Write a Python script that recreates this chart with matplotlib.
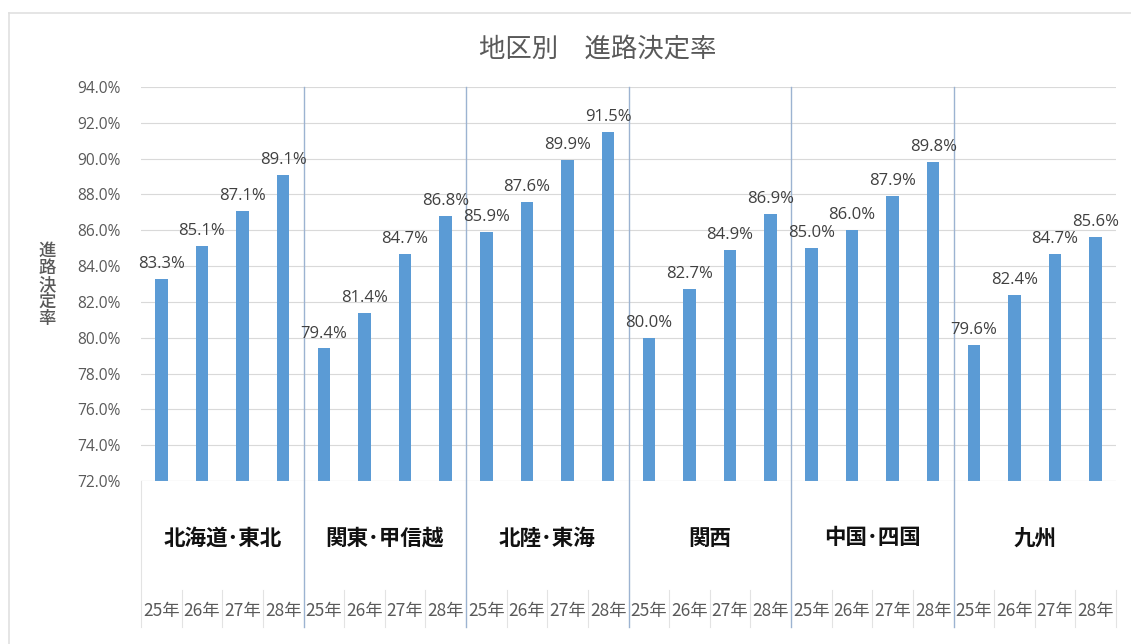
import matplotlib
matplotlib.use("Agg")
import matplotlib.pyplot as plt
from matplotlib.lines import Line2D
import matplotlib.transforms as mtransforms

plt.rcParams['font.family'] = ['Noto Sans CJK JP', 'DejaVu Sans']

title = "地区別　進路決定率"
ylabel = "進路決定率"
regions = ["北海道･東北", "関東･甲信越", "北陸･東海", "関西", "中国･四国", "九州"]
years = ["25年", "26年", "27年", "28年"]
values = [
    [83.3, 85.1, 87.1, 89.1],
    [79.4, 81.4, 84.7, 86.8],
    [85.9, 87.6, 89.9, 91.5],
    [80.0, 82.7, 84.9, 86.9],
    [85.0, 86.0, 87.9, 89.8],
    [79.6, 82.4, 84.7, 85.6],
]
yticks = [72, 74, 76, 78, 80, 82, 84, 86, 88, 90, 92, 94]

W, H = 1131, 644
fig = plt.figure(figsize=(W / 100, H / 100), dpi=100)
# chart frame (top and left edges visible)
fig.add_artist(Line2D([9 / W, 1.0], [1 - 13 / H, 1 - 13 / H], transform=fig.transFigure,
                      color='#E0E0E0', linewidth=1.2))
fig.add_artist(Line2D([9 / W, 9 / W], [0.0, 1 - 13 / H], transform=fig.transFigure,
                      color='#E0E0E0', linewidth=1.2))

ax = fig.add_axes([141 / W, 1 - 481 / H, (1116 - 141) / W, (481 - 87) / H])

bar_color = '#5B9BD5'
text_gray = '#595959'
ng = len(regions)
ny = len(years)
xs = []
vals = []
for gi, row in enumerate(values):
    for yi, v in enumerate(row):
        xs.append(gi * ny + yi)
        vals.append(v)

ax.bar(xs, vals, width=0.31, color=bar_color, bottom=0)
ax.set_ylim(72, 94)
ax.set_xlim(-0.5, ng * ny - 0.5)
ax.set_yticks(yticks)
ax.set_yticklabels([f"{t:.1f}%" for t in yticks], fontsize=11.2, color=text_gray,
                   family=['Open Sans', 'DejaVu Sans'])
ax.tick_params(axis='y', length=0, pad=15)
ax.set_xticks([])
ax.grid(axis='y', color='#D9D9D9', linewidth=0.8)
ax.set_axisbelow(True)
for s in ax.spines.values():
    s.set_visible(False)
ax.axhline(72, color='#D9D9D9', linewidth=0.8)

for x, v in zip(xs, vals):
    ax.annotate(f"{v:.1f}%", (x, v), xytext=(0, 5), textcoords='offset points',
                ha='center', va='bottom', fontsize=12, color='#404040',
                family=['Open Sans', 'DejaVu Sans'])

trans = mtransforms.blended_transform_factory(ax.transData, ax.transAxes)
ah = 481 - 87
def af(py):
    return (481 - py) / ah

# region separators
for gi in range(1, ng):
    xp = gi * ny - 0.5
    ax.plot([xp, xp], [1, af(627)], transform=trans, color='#9CB3D1',
            linewidth=1.0, clip_on=False)
# outer edges
ax.plot([-0.5, -0.5], [0, af(627)], transform=trans, color='#E3E3E3',
        linewidth=0.8, clip_on=False)
ax.plot([ng * ny - 0.5] * 2, [af(590), af(627)], transform=trans, color='#E3E3E3',
        linewidth=0.8, clip_on=False)
# year separators
for gi in range(ng):
    for yi in range(1, ny):
        xp = gi * ny + yi - 0.5
        ax.plot([xp, xp], [af(590), af(627)], transform=trans, color='#E3E3E3',
                linewidth=0.8, clip_on=False)

# labels
for gi, r in enumerate(regions):
    ax.text(gi * ny + (ny - 1) / 2, af(538), r, transform=trans, ha='center',
            va='center', fontsize=15.5, fontweight='bold', color='#111111')
    for yi, yl in enumerate(years):
        ax.text(gi * ny + yi, af(611), yl, transform=trans, ha='center',
                va='center', fontsize=12.5, color=text_gray)

fig.text(598 / W, 1 - 50 / H, title, ha='center', va='center', fontsize=19,
         color=text_gray)
fig.text(47 / W, 1 - 285 / H, "\n".join(ylabel), ha='center', va='center',
         fontsize=12.5, fontweight='medium', color=text_gray, linespacing=0.92)

fig.savefig("out.png", dpi=100)
